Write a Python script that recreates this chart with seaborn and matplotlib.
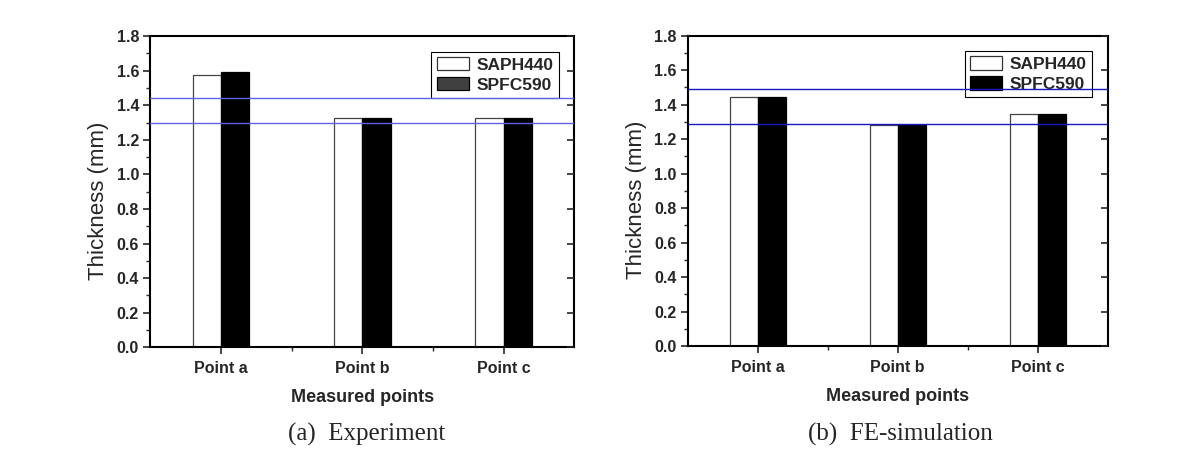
import numpy as np
import pandas as pd
import matplotlib
matplotlib.use("Agg")
import matplotlib.pyplot as plt
from matplotlib.ticker import MultipleLocator, FixedLocator
import seaborn as sns

sns.set_style("white")
plt.rcParams['font.family'] = ['Liberation Sans', 'DejaVu Sans']

categories = ["Point a", "Point b", "Point c"]
series = ["SAPH440", "SPFC590"]
exp_saph440 = [1.575, 1.325, 1.325]
exp_spfc590 = [1.592, 1.328, 1.328]
sim_saph440 = [1.445, 1.283, 1.345]
sim_spfc590 = [1.447, 1.285, 1.347]
exp_ref_lines = [1.44, 1.295]
sim_ref_lines = [1.49, 1.29]
yticks = [0.0, 0.2, 0.4, 0.6, 0.8, 1.0, 1.2, 1.4, 1.6, 1.8]
captions = ["(a)  Experiment", "(b)  FE-simulation"]

def make_df(s1, s2):
    rows = []
    for c, v in zip(categories, s1):
        rows.append({"point": c, "steel": series[0], "thickness": v})
    for c, v in zip(categories, s2):
        rows.append({"point": c, "steel": series[1], "thickness": v})
    return pd.DataFrame(rows)

fig = plt.figure(figsize=(11.82, 4.58), dpi=100)
ax_a = fig.add_axes([0.127, 0.242, 0.359, 0.679])
ax_b = fig.add_axes([0.582, 0.244, 0.355, 0.678])

panels = [
    (ax_a, make_df(exp_saph440, exp_spfc590), exp_ref_lines, "#6060e8", captions[0], 0.310, "#404040"),
    (ax_b, make_df(sim_saph440, sim_spfc590), sim_ref_lines, "#1818c0", captions[1], 0.762, "black"),
]

for ax, df, refs, lc, cap, cx, legdark in panels:
    sns.barplot(data=df, x="point", y="thickness", hue="steel",
                palette=["white", "black"], width=0.4, dodge=True,
                edgecolor="black", linewidth=0.9, saturation=1,
                errorbar=None, ax=ax, zorder=2)
    for p in ax.patches[:3]:
        p.set_edgecolor("#444444")
    ax.set_xlim(-0.5, 2.5)
    ax.set_ylim(0, 1.8)
    ax.yaxis.set_major_locator(FixedLocator(yticks))
    ax.yaxis.set_minor_locator(MultipleLocator(0.1))
    ax.xaxis.set_minor_locator(FixedLocator([0.5, 1.5]))
    ax.set_yticklabels([f"{t:.1f}" for t in yticks], fontweight="bold", fontsize=11.5)
    ax.set_xticks(range(len(categories)))
    ax.set_xticklabels(categories, fontweight="bold", fontsize=11.5)
    ax.tick_params(axis="both", which="major", direction="out", length=5, width=1.2,
                   bottom=True, left=True, top=False, right=False, pad=3)
    ax.tick_params(axis="both", which="minor", direction="out", length=3, width=1.0,
                   bottom=True, left=True, top=False, right=False)
    ax.tick_params(axis="x", which="major", pad=5)
    for sp in ax.spines.values():
        sp.set_visible(True)
        sp.set_color("black")
        sp.set_linewidth(1.5)
    ax.set_ylabel("Thickness (mm)", fontsize=16)
    ax.yaxis.set_label_coords(-0.097, 0.47)
    ax.set_xlabel("Measured points", fontweight="bold", fontsize=13, labelpad=9)
    # inward ticks on the right side
    tw = ax.twinx()
    tw.set_ylim(0, 1.8)
    tw.yaxis.set_major_locator(FixedLocator(yticks))
    tw.tick_params(axis="y", direction="in", length=5, width=1.2, labelright=False)
    tw.spines[:].set_visible(False)
    tw.grid(False)
    leg = ax.legend(loc="upper right", bbox_to_anchor=(0.963, 0.95), frameon=True,
                    fancybox=False, edgecolor="black", framealpha=1,
                    prop={"weight": "bold", "size": 12.5}, handlelength=1.85,
                    handleheight=0.8, borderpad=0.3, labelspacing=0.25,
                    handletextpad=0.45, borderaxespad=0.0)
    leg.get_frame().set_linewidth(0.8)
    leg.set_zorder(3)
    hs = leg.legend_handles
    hs[0].set_edgecolor("#333333")
    hs[1].set_facecolor(legdark)
    hs[1].set_edgecolor("black")
    for r in refs:
        ax.axhline(r, color=lc, linewidth=1.0, zorder=5)
    fig.text(cx, 0.052, cap, ha="center", va="center",
             fontsize=18, family=["Liberation Serif", "DejaVu Serif"])

fig.savefig("out.png", dpi=100)
